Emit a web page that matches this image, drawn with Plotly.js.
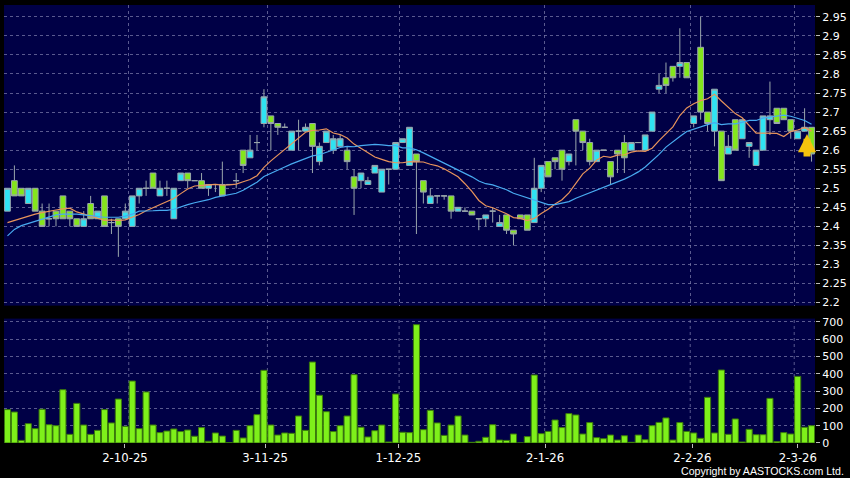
<!DOCTYPE html>
<html>
<head>
<meta charset="utf-8">
<script src="https://cdn.plot.ly/plotly-3.0.1.min.js"></script>
<style>html,body{margin:0;padding:0;background:#000;}#chart{width:850px;height:478px;}</style>
</head>
<body>
<div id="chart"></div>
<script>
// ---- data ----
const tickLabels = ['2-10-25','3-11-25','1-12-25','2-1-26','2-2-26','2-3-26'];
const tickPos    = [16.95, 37.16, 56.39, 77.56, 98.81, 114.03];
const gridPos    = [17.5, 37.5, 56.5, 77.5, 98.5, 113.5];

const openP = [2.44,2.52,2.50,2.46,2.50,2.44,2.42,2.44,2.48,2.44,
2.42,2.40,2.46,2.42,2.48,2.41,2.42,2.42,2.40,2.48,
2.50,2.54,2.48,2.50,2.42,2.52,2.54,2.52,2.52,2.50,
2.51,2.51,2.51,2.52,2.60,2.58,2.62,2.67,2.69,2.67,
2.66,2.60,2.65,2.65,2.67,2.57,2.62,2.60,2.61,2.60,
2.53,2.52,2.51,2.54,2.49,2.55,2.55,2.62,2.56,2.59,
2.52,2.46,2.48,2.48,2.48,2.44,2.44,2.44,2.42,2.42,
2.44,2.40,2.43,2.39,2.43,2.43,2.41,2.50,2.57,2.58,
2.60,2.57,2.68,2.65,2.62,2.57,2.60,2.57,2.60,2.62,
2.60,2.62,2.60,2.65,2.76,2.79,2.82,2.82,2.83,2.67,
2.87,2.70,2.65,2.65,2.59,2.68,2.63,2.61,2.56,2.60,
2.68,2.71,2.71,2.68,2.63,2.65,2.66];

const highP = [2.50,2.56,2.50,2.50,2.50,2.46,2.46,2.44,2.48,2.44,
2.42,2.44,2.48,2.44,2.48,2.42,2.42,2.46,2.48,2.50,
2.52,2.54,2.52,2.52,2.50,2.54,2.54,2.52,2.54,2.51,
2.51,2.57,2.51,2.54,2.60,2.64,2.64,2.76,2.69,2.67,
2.67,2.65,2.68,2.67,2.67,2.62,2.65,2.64,2.64,2.61,
2.55,2.54,2.53,2.56,2.55,2.55,2.62,2.63,2.66,2.59,
2.52,2.50,2.48,2.48,2.48,2.45,2.45,2.44,2.42,2.43,
2.45,2.43,2.43,2.39,2.43,2.43,2.58,2.56,2.57,2.58,
2.60,2.59,2.68,2.65,2.63,2.60,2.60,2.57,2.60,2.64,
2.62,2.62,2.64,2.70,2.80,2.83,2.82,2.92,2.83,2.69,
2.95,2.70,2.76,2.65,2.64,2.68,2.68,2.62,2.60,2.69,
2.78,2.71,2.71,2.68,2.65,2.71,2.66];

const lowP = [2.44,2.48,2.48,2.46,2.44,2.40,2.40,2.40,2.42,2.40,
2.40,2.40,2.42,2.42,2.40,2.38,2.32,2.42,2.40,2.46,
2.48,2.50,2.48,2.48,2.42,2.52,2.50,2.52,2.50,2.48,
2.49,2.48,2.51,2.50,2.54,2.58,2.60,2.66,2.60,2.64,
2.66,2.60,2.60,2.65,2.54,2.56,2.62,2.59,2.61,2.55,
2.43,2.50,2.51,2.54,2.49,2.51,2.55,2.62,2.56,2.38,
2.46,2.46,2.46,2.47,2.42,2.44,2.44,2.43,2.39,2.40,
2.41,2.40,2.38,2.35,2.42,2.39,2.41,2.49,2.53,2.55,
2.52,2.56,2.56,2.60,2.56,2.57,2.60,2.51,2.54,2.54,
2.60,2.62,2.60,2.65,2.75,2.75,2.78,2.79,2.79,2.66,
2.68,2.65,2.61,2.52,2.59,2.60,2.63,2.58,2.56,2.60,
2.64,2.67,2.68,2.63,2.63,2.65,2.57];

const closeP = [2.50,2.48,2.48,2.50,2.44,2.40,2.42,2.42,2.42,2.42,
2.40,2.42,2.42,2.44,2.40,2.41,2.40,2.44,2.48,2.50,
2.50,2.50,2.50,2.50,2.50,2.54,2.52,2.52,2.50,2.51,
2.51,2.48,2.51,2.52,2.56,2.60,2.62,2.74,2.67,2.66,
2.66,2.65,2.65,2.66,2.61,2.61,2.65,2.63,2.63,2.57,
2.50,2.54,2.52,2.56,2.55,2.55,2.62,2.63,2.66,2.57,
2.49,2.48,2.48,2.48,2.44,2.45,2.44,2.43,2.42,2.43,
2.44,2.41,2.39,2.38,2.42,2.39,2.50,2.56,2.53,2.57,
2.55,2.59,2.65,2.62,2.57,2.60,2.60,2.53,2.59,2.58,
2.62,2.62,2.64,2.70,2.77,2.77,2.79,2.83,2.79,2.69,
2.70,2.67,2.76,2.52,2.61,2.60,2.68,2.62,2.60,2.69,
2.69,2.67,2.68,2.65,2.65,2.66,2.59];

const ma10 = [2.410,2.416,2.421,2.426,2.432,2.436,2.440,2.443,2.446,
2.448,2.438,2.432,2.426,2.420,2.416,2.417,2.415,2.417,2.423,2.431,
2.441,2.449,2.457,2.463,2.473,2.486,2.498,2.506,2.508,2.509,
2.510,2.508,2.509,2.511,2.517,2.523,2.533,2.555,2.572,2.587,
2.602,2.619,2.633,2.647,2.652,2.653,2.656,2.645,2.641,2.632,
2.616,2.605,2.592,2.582,2.576,2.570,2.567,2.567,2.570,2.570,
2.569,2.563,2.559,2.551,2.540,2.530,2.512,2.492,2.468,2.454,
2.449,2.442,2.433,2.423,2.421,2.415,2.421,2.434,2.445,2.459,
2.470,2.488,2.514,2.538,2.553,2.574,2.584,2.581,2.587,2.588,
2.595,2.598,2.597,2.605,2.625,2.642,2.661,2.691,2.711,2.722,
2.730,2.735,2.747,2.729,2.713,2.696,2.685,2.664,2.645,2.645,
2.644,2.644,2.636,2.649,2.653,2.659,2.650];

const ma20 = [2.375,2.392,2.402,2.408,2.412,2.419,2.426,2.430,2.432,2.432,
2.432,2.430,2.428,2.426,2.424,2.424,2.424,2.427,2.432,
2.440,2.440,2.441,2.442,2.442,2.445,2.452,2.457,2.462,2.466,2.470,
2.476,2.479,2.483,2.487,2.495,2.505,2.516,2.531,2.540,2.548,
2.556,2.564,2.571,2.579,2.585,2.588,2.595,2.600,2.607,2.610,
2.609,2.612,2.613,2.615,2.614,2.612,2.612,2.606,2.606,2.601,
2.593,2.584,2.576,2.567,2.558,2.550,2.540,2.530,2.519,2.512,
2.509,2.503,2.496,2.487,2.481,2.473,2.467,2.463,2.457,2.457,
2.460,2.465,2.474,2.481,2.487,2.495,2.503,2.508,2.516,2.524,
2.533,2.543,2.556,2.572,2.589,2.608,2.623,2.636,2.649,2.655,
2.663,2.667,2.672,2.667,2.669,2.669,2.673,2.678,2.678,2.684,
2.687,2.690,2.692,2.689,2.683,2.678,2.668];

const volume = [193,179,15,112,83,195,106,100,308,50,
229,104,50,73,193,116,254,96,358,83,
295,104,60,69,81,66,75,39,89,10,
58,40,2,73,29,100,164,420,104,46,
58,56,156,73,468,276,181,66,100,156,
395,91,35,71,104,6,283,62,60,684,
77,189,116,44,104,156,46,4,10,33,
106,17,15,52,0,37,393,54,67,133,
89,170,162,52,118,31,25,46,17,42,
4,46,19,100,119,145,17,118,67,58,
27,264,58,422,50,139,6,79,48,48,
258,8,60,52,385,91,100];

// ---- chart ----
const idx = closeP.map((_, i) => i);
const lastI = idx.length - 1;

const gridColor = 'rgba(120,120,168,0.75)';
const wick = '#9aa6ac';

const traces = [
  {
    type: 'candlestick', x: idx, open: openP, high: highP, low: lowP, close: closeP,
    xaxis: 'x', yaxis: 'y', whiskerwidth: 0,
    increasing: {line: {color: wick, width: 1}, fillcolor: '#2fe3f2'},
    decreasing: {line: {color: wick, width: 1}, fillcolor: '#84e61c'},
    hoverinfo: 'skip'
  },
  {type: 'scatter', mode: 'lines', x: idx, y: ma10, xaxis: 'x', yaxis: 'y',
   line: {color: '#e8945c', width: 1.2}, hoverinfo: 'skip'},
  {type: 'scatter', mode: 'lines', x: idx, y: ma20, xaxis: 'x', yaxis: 'y',
   line: {color: '#48aaf0', width: 1.2}, hoverinfo: 'skip'},
  {type: 'bar', x: idx, y: volume, xaxis: 'x2', yaxis: 'y2',
   marker: {color: '#7ef01a', line: {color: '#3b7a0c', width: 1}}, hoverinfo: 'skip'}
];

const axisFont = {family: 'DejaVu Sans, Verdana, sans-serif', size: 11, color: '#ffffff'};

const layout = {
  width: 850, height: 478,
  paper_bgcolor: '#000000', plot_bgcolor: '#000046',
  margin: {l: 4, r: 35, t: 5, b: 34.5, pad: 0},
  showlegend: false,
  boxgap: 0.17,
  boxgroupgap: 0,
  bargap: 0.12,
  font: axisFont,
  xaxis: {
    domain: [0, 1], anchor: 'y', range: [-0.5, 116.5],
    tickmode: 'array', tickvals: gridPos, showticklabels: false, ticks: '',
    showgrid: true, gridcolor: gridColor, griddash: '3px,3px', gridwidth: 1,
    zeroline: false, showline: false, rangeslider: {visible: false}, fixedrange: true
  },
  yaxis: {
    domain: [0.3136, 1], anchor: 'x', range: [2.192, 2.981], side: 'right',
    tick0: 2.2, dtick: 0.05, ticks: 'outside', ticklen: 4, tickcolor: '#bbbbbb',
    showgrid: true, gridcolor: gridColor, griddash: '3px,3px',
    zeroline: false, showline: false, tickfont: axisFont, fixedrange: true
  },
  xaxis2: {
    domain: [0, 1], anchor: 'y2', range: [-0.5, 116.5],
    tickmode: 'array', tickvals: tickPos, ticktext: tickLabels,
    ticks: 'outside', ticklen: 4, tickcolor: '#bbbbbb', showgrid: false,
    zeroline: false, showline: false,
    tickfont: {family: 'DejaVu Sans, Verdana, sans-serif', size: 11.7, color: '#ffffff'}, fixedrange: true
  },
  yaxis2: {
    domain: [0, 0.284], anchor: 'x2', range: [0, 719], side: 'right',
    tick0: 0, dtick: 100, ticks: 'outside', ticklen: 4, tickcolor: '#bbbbbb',
    showgrid: true, gridcolor: gridColor, griddash: '3px,3px',
    zeroline: false, showline: false, tickfont: axisFont, fixedrange: true
  },
  shapes: gridPos.map(g => ({
    type: 'line', xref: 'x2', yref: 'y2 domain', x0: g, x1: g, y0: 0, y1: 1,
    line: {color: gridColor, width: 1, dash: '3px,3px'}, layer: 'below'
  })),
  annotations: [
    {xref: 'paper', yref: 'paper', x: 1.0385, y: -0.064, xanchor: 'right', yanchor: 'middle',
     text: 'Copyright by AASTOCKS.com Ltd.', showarrow: false,
     font: {family: 'Liberation Sans, Arial, sans-serif', size: 10.6, color: '#ffffff'}},
    {xref: 'x', yref: 'y', x: idx[lastI], y: closeP[lastI], xshift: -4.5, yshift: 20,
     text: '', showarrow: true, ax: 0, ay: 24, arrowhead: 2, arrowsize: 0.52,
     arrowwidth: 7, arrowcolor: '#f4c20d', standoff: 0}
  ]
};

Plotly.newPlot('chart', traces, layout, {displayModeBar: false, staticPlot: true});
</script>
</body>
</html>
